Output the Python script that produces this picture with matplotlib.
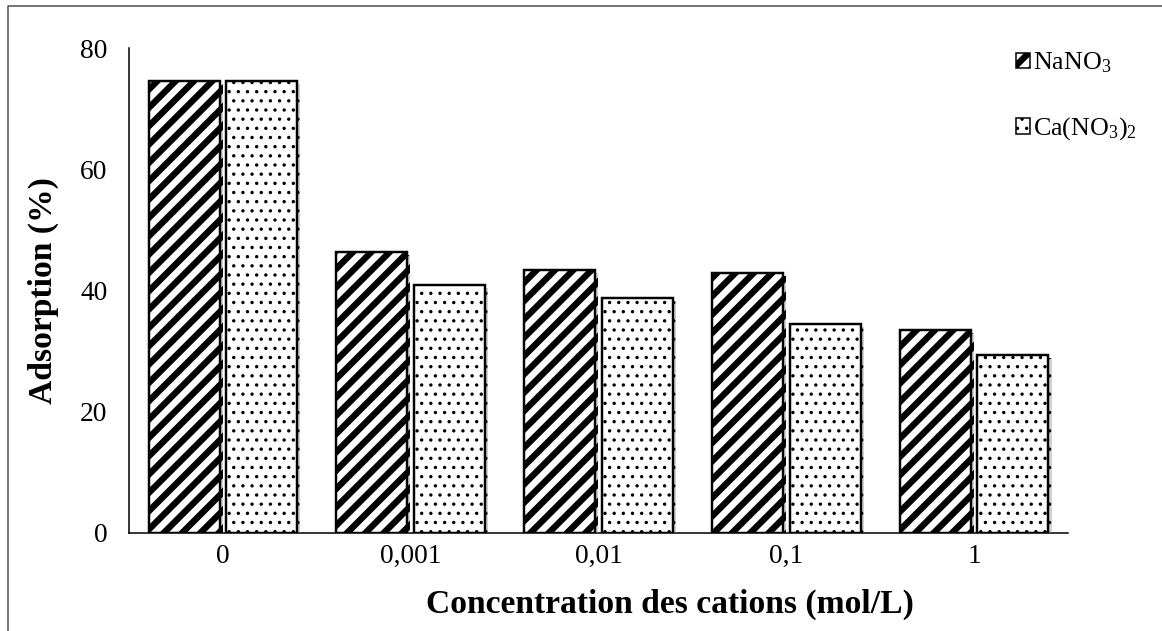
import matplotlib
matplotlib.use("Agg")
import matplotlib.pyplot as plt
import matplotlib.patheffects as pe
from matplotlib.lines import Line2D
import numpy as np

categories = ["0", "0,001", "0,01", "0,1", "1"]
nano3 = [74.6, 46.4, 43.4, 42.9, 33.5]
cano3 = [74.6, 40.9, 38.8, 34.5, 29.4]
yticks = [0, 20, 40, 60, 80]

DPI = 110
plt.rcParams["font.family"] = ["Liberation Serif", "DejaVu Serif"]
plt.rcParams["mathtext.fontset"] = "custom"
plt.rcParams["mathtext.rm"] = "Liberation Serif"
plt.rcParams["mathtext.it"] = "Liberation Serif:italic"
plt.rcParams["hatch.linewidth"] = 1.0

fig = plt.figure(figsize=(1162 / DPI, 631 / DPI), dpi=DPI)
ax = fig.add_axes([129 / 1162, 1 - 533 / 631, (1068 - 129) / 1162, (533 - 48) / 631])

x = np.arange(len(categories))
w = 0.378
off = 0.207
shadow = [pe.SimplePatchShadow(offset=(2, -2), shadow_rgbFace="0.5", alpha=0.35), pe.Normal()]

b1 = ax.bar(x - off, nano3, w, color="white", edgecolor="black", linewidth=1.6,
            hatch="//", label="NaNO$_3$", zorder=3)
b2 = ax.bar(x + off, cano3, w, color="white", edgecolor="black", linewidth=1.6,
            hatch="..", label="Ca(NO$_3$)$_2$", zorder=3)
for r in b1:
    r.set_path_effects(shadow)
    if hasattr(r, "set_hatch_linewidth"):
        r.set_hatch_linewidth(4.2)
for r in b2:
    r.set_path_effects(shadow)
    if hasattr(r, "set_hatch_linewidth"):
        r.set_hatch_linewidth(1.0)
    if hasattr(r, "set_hatchcolor"):
        r.set_hatchcolor("0.3")

ax.set_xlim(-0.5, len(categories) - 0.5)
ax.set_ylim(0, 80)
ax.set_yticks(yticks)
ax.set_xticks(x)
ax.set_xticklabels(categories)
ax.tick_params(axis="both", length=0, labelsize=18, colors="black")
ax.tick_params(axis="y", pad=14)
ax.tick_params(axis="x", pad=7)
for s in ["top", "right"]:
    ax.spines[s].set_visible(False)
for s in ["left", "bottom"]:
    ax.spines[s].set_linewidth(1.0)
    ax.spines[s].set_color("black")

ax.set_ylabel("Adsorption (%)", fontsize=22, fontweight="bold", labelpad=14)
ax.set_xlabel("Concentration des cations (mol/L)", fontsize=22, fontweight="bold")
ax.xaxis.set_label_coords((670 - 129) / 939, -(604 - 533) / 485, transform=ax.transAxes)
ax.xaxis.label.set_verticalalignment("center")

leg = ax.legend(loc="upper left", bbox_to_anchor=(995 / 1162, 1 - 30 / 631),
                bbox_transform=fig.transFigure, frameon=False, fontsize=17,
                handlelength=0.55, handleheight=0.55, handletextpad=0.1,
                labelspacing=1.55, borderpad=0.3)
for h in leg.legend_handles:
    h.set_path_effects([])
    h.set_linewidth(1.0)
if hasattr(leg.legend_handles[0], "set_hatch_linewidth"):
    leg.legend_handles[0].set_hatch_linewidth(4.2)

# outer frame (top and left edges)
fig.add_artist(Line2D([8 / 1162, 8 / 1162, 1.0], [0.0, 1 - 6 / 631, 1 - 6 / 631],
                      transform=fig.transFigure, color="0.3", linewidth=1.0))

fig.savefig("out.png", dpi=DPI)
